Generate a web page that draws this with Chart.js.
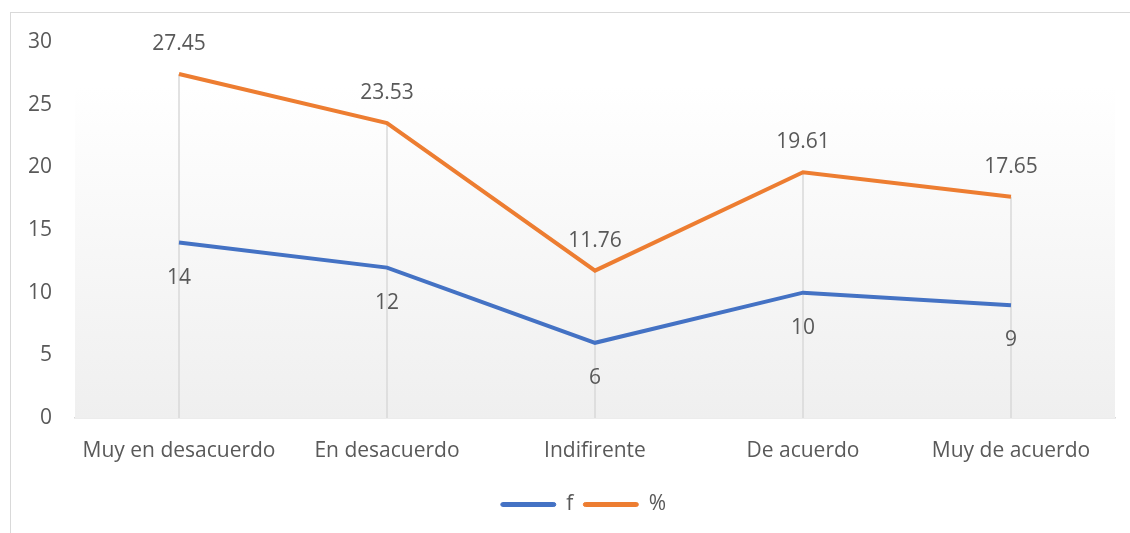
<!DOCTYPE html>
<html>
<head>
<meta charset="utf-8">
<script src="https://cdn.jsdelivr.net/npm/chart.js@4.4.0/dist/chart.umd.min.js"></script>
<style>
  html, body { margin: 0; padding: 0; background: #fff; }
  #wrap { position: relative; width: 1130px; height: 533px; overflow: hidden; }
  #frame { position: absolute; left: 10px; top: 12px; width: 1200px; height: 600px;
           border-left: 1.5px solid #d9d9d9; border-top: 1.5px solid #d9d9d9; }
  #lineChart { position: absolute; left: 0; top: 0; }
</style>
</head>
<body>
<div id="wrap">
  <div id="frame"></div>
  <canvas id="lineChart" width="1130" height="533"></canvas>
</div>
<script>
const categories = ['Muy en desacuerdo', 'En desacuerdo', 'Indifirente', 'De acuerdo', 'Muy de acuerdo'];
const fValues = [14, 12, 6, 10, 9];
const pctValues = [27.45, 23.53, 11.76, 19.61, 17.65];
const yTicks = [0, 5, 10, 15, 20, 25, 30];

const textColor = '#595959';
const fontFamily = '"Open Sans", Lato, sans-serif';
const fontSize = 21;

// fondo degradado del área del gráfico + líneas de caída
const plotDecor = {
  id: 'plotDecor',
  afterLayout(chart) {
    // la leyenda del original está algo desplazada a la derecha
    chart.legend.left += 26;
    chart.legend.right += 26;
    chart.legend.top += 2;
    chart.legend.bottom += 2;
  },
  beforeDatasetsDraw(chart) {
    const { ctx, chartArea, scales } = chart;
    const g = ctx.createLinearGradient(0, chartArea.top, 0, chartArea.bottom);
    g.addColorStop(0, '#ffffff');
    g.addColorStop(0.12, '#ffffff');
    g.addColorStop(1, '#efefef');
    ctx.save();
    ctx.fillStyle = g;
    ctx.fillRect(chartArea.left, chartArea.top, chartArea.right - chartArea.left, chartArea.bottom - chartArea.top);
    ctx.strokeStyle = '#d9d9d9';
    ctx.lineWidth = 1.5;
    categories.forEach((c, i) => {
      const x = scales.x.getPixelForValue(i);
      const top = scales.y.getPixelForValue(Math.max(fValues[i], pctValues[i]));
      ctx.beginPath();
      ctx.moveTo(x, top);
      ctx.lineTo(x, scales.y.getPixelForValue(0));
      ctx.stroke();
    });
    ctx.restore();
  }
};

const valueLabels = {
  id: 'valueLabels',
  afterDatasetsDraw(chart) {
    const { ctx } = chart;
    ctx.save();
    ctx.font = fontSize + 'px ' + fontFamily;
    ctx.fillStyle = textColor;
    ctx.textAlign = 'center';
    ctx.textBaseline = 'middle';
    chart.data.datasets.forEach((ds, di) => {
      const meta = chart.getDatasetMeta(di);
      meta.data.forEach((pt, i) => {
        const off = di === 0 ? 35 : -30;
        ctx.fillText(String(ds.data[i]), pt.x, pt.y + off);
      });
    });
    ctx.restore();
  }
};

new Chart(document.getElementById('lineChart').getContext('2d'), {
  type: 'line',
  data: {
    labels: categories,
    datasets: [{
      label: 'f',
      data: fValues,
      borderColor: '#4472C4',
      backgroundColor: '#4472C4',
      borderWidth: 4,
      pointRadius: 0,
      tension: 0
    }, {
      label: '%',
      data: pctValues,
      borderColor: '#ED7D31',
      backgroundColor: '#ED7D31',
      borderWidth: 4,
      pointRadius: 0,
      tension: 0
    }]
  },
  options: {
    responsive: false,
    animation: false,
    layout: { padding: { left: 0, right: 15, top: 42, bottom: 10 } },
    plugins: {
      legend: {
        position: 'bottom',
        labels: {
          color: textColor,
          font: { size: fontSize, family: fontFamily },
          boxWidth: 55,
          boxHeight: 4,
          useBorderRadius: true,
          borderRadius: 2,
          padding: 10,
          generateLabels(chart) {
            const items = Chart.defaults.plugins.legend.labels.generateLabels(chart);
            items.forEach(it => { it.lineWidth = 1; });
            return items;
          }
        }
      },
      tooltip: { enabled: false }
    },
    scales: {
      x: {
        offset: true,
        grid: { display: false, drawTicks: false },
        border: { display: true, color: '#d9d9d9', width: 1.5 },
        ticks: { color: textColor, font: { size: fontSize, family: fontFamily }, padding: 20, maxRotation: 0 },
        afterFit(scale) { scale.height = 64; }
      },
      y: {
        min: 0,
        max: 30,
        afterBuildTicks(scale) { scale.ticks = yTicks.map(v => ({ value: v })); },
        grid: { display: false, drawTicks: false },
        border: { display: false },
        ticks: { color: textColor, font: { size: fontSize, family: fontFamily }, padding: 23 },
        afterFit(scale) { scale.width = 75; }
      }
    }
  },
  plugins: [plotDecor, valueLabels]
});
</script>
</body>
</html>
